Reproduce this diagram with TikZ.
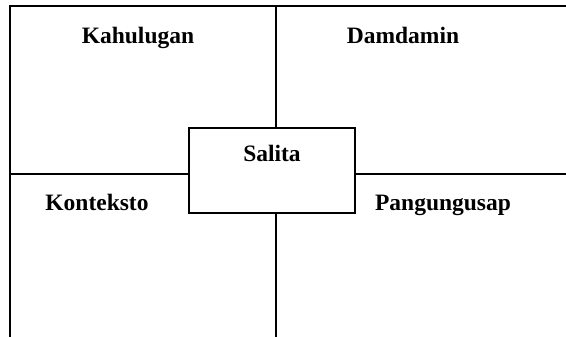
\documentclass[tikz,border=0pt]{standalone}
\usepackage{fontspec}
\setmainfont{Liberation Serif}
\usetikzlibrary{positioning}

\begin{document}
\begin{tikzpicture}[x=1pt,y=-1pt,
	frame/.style={line width=2.4pt,black},
	box/.style={draw,line width=2.4pt,minimum width=166pt,minimum height=85pt,inner sep=0pt},
	word/.style={anchor=base,inner sep=0pt,font=\fontsize{23.5}{28}\selectfont\bfseries}]

	\useasboundingbox (0,0) rectangle (566,337);

	\coordinate (topleft) at (10,6);
	\coordinate (topright) at (566,6);
	\coordinate (botleft) at (10,337);
	\coordinate (topmid) at (276,6);
	\coordinate (botmid) at (276,337);
	\coordinate (midleft) at (10,174);
	\coordinate (midright) at (566,174);

	\node[box] (salita) at (272,170.5) {};

	\node[word] (kahulugan) at (138,44) {Kahulugan};
	\node[word] (damdamin) at (403,44) {Damdamin};
	\node[word] (salitaword) at (272,162) {Salita};
	\node[word] (konteksto) at (97,211) {Konteksto};
	\node[word] (pangungusap) at (443,211) {Pangungusap};

	\draw[frame] (botleft) -- (topleft) -- (topright);
	\draw[frame] (topmid) -- (topmid |- salita.north);
	\draw[frame] (botmid) -- (botmid |- salita.south);
	\draw[frame] (midleft) -- (midleft -| salita.west);
	\draw[frame] (midright) -- (midright -| salita.east);

\end{tikzpicture}
\end{document}
